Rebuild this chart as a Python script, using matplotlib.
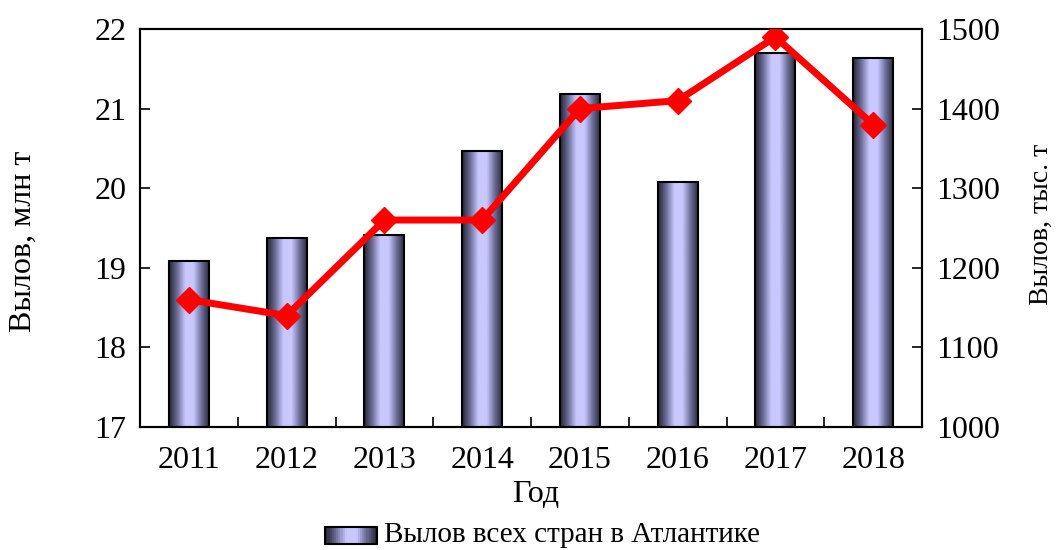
import matplotlib
matplotlib.use('Agg')
import matplotlib.pyplot as plt
import numpy as np
from matplotlib.legend_handler import HandlerBase
from matplotlib.patches import Rectangle, Patch
from matplotlib.colors import LinearSegmentedColormap

plt.rcParams['font.family'] = ['Liberation Serif', 'DejaVu Serif']

years = ['2011', '2012', '2013', '2014', '2015', '2016', '2017', '2018']
catch_total = [19.08, 19.38, 19.41, 20.47, 21.18, 20.08, 21.70, 21.64]   # млн т
catch_line = [1160, 1140, 1260, 1260, 1400, 1410, 1490, 1380]          # тыс. т

FS = 23

# cylinder-like shading: dark edges, light lavender middle
cmap = LinearSegmentedColormap.from_list(
    'cyl', ['#262636', '#6e6e9a', '#c8c8ff', '#c8c8ff', '#6e6e9a', '#262636'])
grad = np.linspace(0, 1, 64).reshape(1, -1)


class GradientHandler(HandlerBase):
    def create_artists(self, legend, orig, xd, yd, w, h, fontsize, trans):
        arts = []
        n = 24
        for i in range(n):
            r = Rectangle((xd + w * i / n, yd), w / n + 0.3, h,
                          facecolor=cmap(i / (n - 1)), edgecolor='none',
                          transform=trans)
            arts.append(r)
        arts.append(Rectangle((xd, yd), w, h, facecolor='none',
                              edgecolor='black', lw=1.5, transform=trans))
        return arts


fig = plt.figure(figsize=(10.56, 5.5), dpi=100)
ax = fig.add_axes([0.1326, 0.2236, 0.7405, 0.7237])

x = np.arange(len(years))
bw = 0.41
bars = ax.bar(x, catch_total, width=bw, bottom=0, facecolor='none',
              edgecolor='black', linewidth=1.5, zorder=3)
for b in bars:
    x0 = b.get_x()
    ax.imshow(grad, cmap=cmap, aspect='auto', zorder=2,
              extent=(x0, x0 + b.get_width(), 17, b.get_height()))
ax.set_xlim(-0.5, len(years) - 0.5)
ax.set_ylim(17, 22)

ax.set_xticks(x)
ax.set_xticklabels(years)
ax.set_xticks(np.arange(len(years) + 1) - 0.5, minor=True)
ax.tick_params(axis='x', which='major', length=0, labelsize=FS, pad=14)
ax.tick_params(axis='x', which='minor', direction='in', length=7, width=1.2)
ax.set_yticks(np.arange(17, 23, 1))
ax.tick_params(axis='y', direction='in', length=7, width=1.2, labelsize=FS, pad=10)
for s in ax.spines.values():
    s.set_linewidth(1.5)

ax2 = ax.twinx()
ax2.plot(x, catch_line, color='#ff0000', linewidth=5, marker='D',
         markersize=13.5, zorder=5)
ax2.set_ylim(1000, 1500)
ax2.set_yticks(np.arange(1000, 1501, 100))
ax2.tick_params(axis='y', direction='in', length=7, width=1.2, labelsize=FS, pad=10)
for s in ax2.spines.values():
    s.set_linewidth(1.5)

# axis titles
fig.text(23 / 1056, 1 - 241 / 550, 'Вылов, млн т', rotation=90,
         ha='center', va='center', fontsize=23)
fig.text(1041 / 1056, 1 - 224 / 550, 'Вылов, тыс. т', rotation=90,
         ha='center', va='center', fontsize=20)
fig.text(536 / 1056, 1 - 495 / 550, 'Год', ha='center', va='center', fontsize=FS)

handle = Patch(label='Вылов всех стран в Атлантике')
fig.legend(handles=[handle], loc='center', bbox_to_anchor=(0.514, 0.027),
           frameon=False, fontsize=21, handler_map={Patch: GradientHandler()},
           handlelength=1.78, handleheight=0.51, handletextpad=0.24,
           borderpad=0, borderaxespad=0)

fig.savefig('out.png', dpi=100)
